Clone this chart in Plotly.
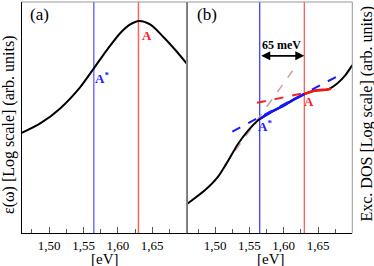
import plotly.graph_objects as go

# ---- data ----
# panel (a): dielectric function eps(omega), log scale, arb. units
eps_x = [1.460, 1.487, 1.516, 1.545, 1.565, 1.584, 1.603, 1.618, 1.631, 1.647, 1.666, 1.686, 1.700]
eps_y = [0.434, 0.475, 0.540, 0.631, 0.713, 0.792, 0.864, 0.903, 0.918, 0.903, 0.850, 0.785, 0.735]

# panel (b): exciton DOS, log scale, arb. units
dos_x = [1.460, 1.485, 1.504, 1.519, 1.533, 1.548, 1.565, 1.582, 1.601, 1.615, 1.630, 1.645, 1.664, 1.678, 1.690, 1.700]
dos_y = [0.129, 0.186, 0.244, 0.314, 0.385, 0.444, 0.494, 0.525, 0.554, 0.579, 0.602, 0.616, 0.622, 0.648, 0.684, 0.727]

# highlighted segments of the DOS curve
seg_blue_x = [1.565, 1.582, 1.601, 1.615, 1.630]
seg_blue_y = [0.494, 0.525, 0.554, 0.579, 0.602]
seg_red_x = [1.630, 1.645, 1.664, 1.669]
seg_red_y = [0.602, 0.616, 0.622, 0.625]

# dashed tangent lines
tan_blue_x = [1.525, 1.677]
tan_blue_y = [0.440, 0.677]
tan_red_x = [1.561, 1.628]
tan_red_y = [0.564, 0.605]
tan_brown_x = [1.514, 1.613]
tan_brown_y = [0.294, 0.703]

# energies of A* and A
E_Astar = 1.565
E_A = 1.630

tick_vals = [1.50, 1.55, 1.60, 1.65]
tick_text = ["1,50", "1,55", "1,60", "1,65"]
minor_vals = [1.475, 1.525, 1.575, 1.625, 1.675]

FONT = "Liberation Serif"

fig = go.Figure()
fig.add_trace(go.Scatter(x=eps_x, y=eps_y, mode="lines", line=dict(color="black", width=2, shape="spline", smoothing=0.8),
                         xaxis="x", yaxis="y", showlegend=False))

fig.add_trace(go.Scatter(x=tan_brown_x, y=tan_brown_y, mode="lines", line=dict(color="#c8a0a0", width=1.5, dash="dash"),
                         xaxis="x2", yaxis="y2", showlegend=False))
fig.add_trace(go.Scatter(x=dos_x, y=dos_y, mode="lines", line=dict(color="black", width=2, shape="spline", smoothing=0.6),
                         xaxis="x2", yaxis="y2", showlegend=False))
fig.add_trace(go.Scatter(x=seg_blue_x, y=seg_blue_y, mode="lines", line=dict(color="#1010ff", width=2.5, shape="spline", smoothing=0.6),
                         xaxis="x2", yaxis="y2", showlegend=False))
fig.add_trace(go.Scatter(x=seg_red_x, y=seg_red_y, mode="lines", line=dict(color="#ff1010", width=2.5, shape="spline", smoothing=0.6),
                         xaxis="x2", yaxis="y2", showlegend=False))
fig.add_trace(go.Scatter(x=tan_blue_x, y=tan_blue_y, mode="lines", line=dict(color="#1a1aff", width=2, dash="dash"),
                         xaxis="x2", yaxis="y2", showlegend=False))
fig.add_trace(go.Scatter(x=tan_red_x, y=tan_red_y, mode="lines", line=dict(color="#ff2020", width=2, dash="dash"),
                         xaxis="x2", yaxis="y2", showlegend=False))

shapes = [
    dict(type="line", xref="x", yref="y domain", x0=E_Astar, x1=E_Astar, y0=0, y1=1, line=dict(color="#7070ff", width=1.5), layer="below"),
    dict(type="line", xref="x", yref="y domain", x0=E_A, x1=E_A, y0=0, y1=1, line=dict(color="#ff6060", width=1.5), layer="below"),
    dict(type="line", xref="x2", yref="y2 domain", x0=E_Astar, x1=E_Astar, y0=0, y1=1, line=dict(color="#3030ff", width=1.2), layer="below"),
    dict(type="line", xref="x2", yref="y2 domain", x0=E_A, x1=E_A, y0=0, y1=1, line=dict(color="#ff5050", width=1.2), layer="below"),
    # frame (top and right edges, grey)
    dict(type="line", xref="paper", yref="paper", x0=0.058, x1=0.942, y0=0.9925, y1=0.9925, line=dict(color="#999", width=1)),
    dict(type="line", xref="paper", yref="paper", x0=0.4987, x1=0.4987, y0=0.1229, y1=0.9925, line=dict(color="#888", width=1)),
    dict(type="line", xref="paper", yref="paper", x0=0.942, x1=0.942, y0=0.1229, y1=0.9925, line=dict(color="#999", width=1)),
]

C = dict(xanchor="center", yanchor="middle", showarrow=False)
annotations = [
    dict(text="(a)", x=1.4852, y=0.944, xref="x", yref="y", font=dict(family=FONT, size=17, color="black"), **C),
    dict(text="<b>A</b>", x=1.6423, y=0.857, xref="x", yref="y", font=dict(family=FONT, size=13, color="#ff2020"), **C),
    dict(text="<b>A<sup>*</sup></b>", x=1.5766, y=0.672, xref="x", yref="y", font=dict(family=FONT, size=13, color="#2020ff"), **C),
    dict(text="(b)", x=1.488, y=0.944, xref="x2", yref="y2", font=dict(family=FONT, size=17, color="black"), **C),
    dict(text="<b>65 meV</b>", x=1.5962, y=0.814, xref="x2", yref="y2", font=dict(family=FONT, size=12, color="black"), **C),
    dict(text="", x=E_A, y=0.7675, ax=E_Astar, ay=0.7675, xref="x2", yref="y2", axref="x2", ayref="y2",
         showarrow=True, arrowhead=2, arrowside="end+start", arrowsize=1, arrowwidth=1.8, arrowcolor="black"),
    dict(text="<b>A</b>", x=1.6373, y=0.568, xref="x2", yref="y2", font=dict(family=FONT, size=13, color="#ff2020"), **C),
    dict(text="<b>A<sup>*</sup></b>", x=1.572, y=0.462, xref="x2", yref="y2", font=dict(family=FONT, size=13, color="#2020ff"), **C),
    # axis titles
    dict(text="ε(ω) [Log scale] (arb. units)", x=9/374, y=1-125/266, xref="paper", yref="paper", textangle=-90,
         font=dict(family=FONT, size=16, color="black"), **C),
    dict(text="Exc. DOS [Log scale] (arb. units)", x=366/374, y=1-113.5/266, xref="paper", yref="paper", textangle=-90,
         font=dict(family=FONT, size=16, color="black"), **C),
    dict(text="[eV]", x=104/374, y=1-258.5/266, xref="paper", yref="paper", font=dict(family=FONT, size=15, color="black"), **C),
    dict(text="[eV]", x=270/374, y=1-258.5/266, xref="paper", yref="paper", font=dict(family=FONT, size=15, color="black"), **C),
]

xcommon = dict(range=[1.46, 1.70], tickmode="array", tickvals=tick_vals, ticktext=tick_text, ticks="inside", ticklen=6,
               tickcolor="#555", showline=True, linecolor="black", linewidth=1.2, showgrid=False, zeroline=False,
               automargin=False,
               tickfont=dict(family=FONT, size=13, color="black"),
               minor=dict(tickmode="array", tickvals=minor_vals, ticks="inside", ticklen=4, tickcolor="#555"))
ycommon = dict(range=[0, 1], showticklabels=False, ticks="", showgrid=False, zeroline=False, domain=[0.1229, 0.9925],
               automargin=False)

fig.update_layout(
    width=374, height=266,
    margin=dict(l=0, r=0, t=0, b=0, autoexpand=False),
    paper_bgcolor="white", plot_bgcolor="white",
    xaxis=dict(domain=[0.058, 0.4987], anchor="y", **xcommon),
    yaxis=dict(anchor="x", showline=True, linecolor="black", linewidth=1.2, **ycommon),
    xaxis2=dict(domain=[0.5019, 0.942], anchor="y2", **xcommon),
    yaxis2=dict(anchor="x2", showline=True, linecolor="#777", linewidth=1, **ycommon),
    shapes=shapes,
    annotations=annotations,
    showlegend=False,
)

fig.write_html("out.html", config={"displayModeBar": False},
               post_script="document.body.style.margin='0';document.body.style.padding='0';document.body.style.overflow='hidden';")
